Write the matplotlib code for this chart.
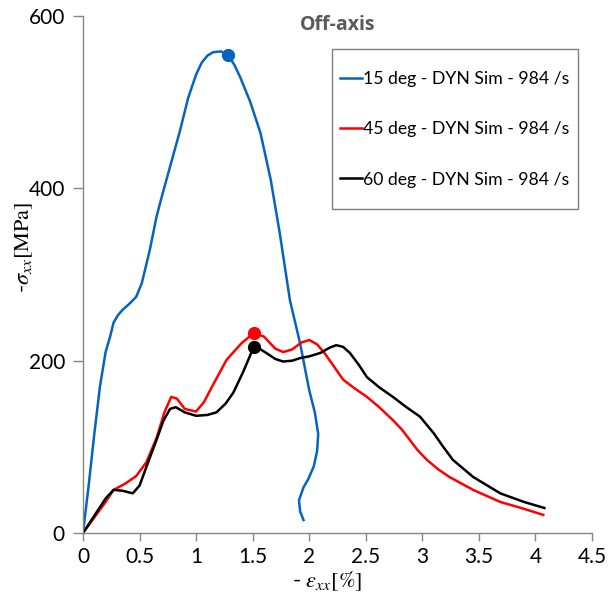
import matplotlib.pyplot as plt
from matplotlib.patches import Rectangle

plt.rcParams['font.family'] = ['Lato', 'DejaVu Sans']
plt.rcParams['mathtext.fontset'] = 'stix'

# strain [%] and stress [MPa] for each off-axis angle
strain_15 = [0, 0.05, 0.10, 0.15, 0.20, 0.24, 0.27, 0.31, 0.35, 0.41, 0.47, 0.52, 0.59, 0.65,
             0.70, 0.78, 0.86, 0.93, 1.00, 1.05, 1.10, 1.15, 1.22, 1.28, 1.34, 1.39, 1.48, 1.57,
             1.66, 1.74, 1.83, 1.92, 2.00, 2.05, 2.08, 2.07, 2.04, 1.99, 1.95, 1.91, 1.92, 1.95]
stress_15 = [0, 55, 115, 170, 210, 228, 244, 253, 259, 266, 274, 290, 328, 367,
             392, 430, 468, 505, 532, 546, 554, 558, 559, 555, 543, 529, 500, 464,
             410, 348, 270, 220, 166, 140, 115, 95, 77, 62, 53, 38, 25, 15]

strain_45 = [0, 0.10, 0.20, 0.27, 0.37, 0.47, 0.56, 0.65, 0.72, 0.78, 0.83, 0.90, 1.00, 1.07,
             1.15, 1.27, 1.40, 1.51, 1.60, 1.70, 1.77, 1.85, 1.93, 2.00, 2.07, 2.14, 2.21,
             2.30, 2.40, 2.51, 2.62, 2.74, 2.82, 2.89, 2.96, 3.04, 3.14, 3.24, 3.45, 3.69,
             3.90, 4.07]
stress_45 = [0, 18, 36, 50, 57, 66, 82, 110, 140, 158, 156, 144, 141, 152,
             172, 201, 220, 232, 228, 214, 210, 213, 221, 224, 219, 208, 195,
             178, 168, 158, 146, 131, 120, 108, 96, 85, 74, 65, 50, 36,
             28, 21]

strain_60 = [0, 0.10, 0.20, 0.27, 0.35, 0.44, 0.50, 0.57, 0.65, 0.71, 0.77, 0.82, 0.90, 1.00,
             1.10, 1.18, 1.26, 1.33, 1.42, 1.51, 1.56, 1.62, 1.70, 1.77, 1.85, 1.92, 2.00,
             2.10, 2.18, 2.24, 2.30, 2.36, 2.44, 2.51, 2.62, 2.74, 2.86, 2.98, 3.10, 3.18,
             3.27, 3.45, 3.69, 3.90, 4.08]
stress_60 = [0, 20, 40, 50, 49, 46, 55, 80, 108, 130, 144, 146, 140, 136,
             137, 140, 150, 163, 188, 216, 214, 209, 202, 199, 200, 203, 205,
             209, 215, 218, 216, 209, 195, 181, 169, 158, 146, 135, 116, 101,
             85, 65, 46, 36, 29]

# peak points
peak_15 = (1.28, 555)
peak_45 = (1.51, 232)
peak_60 = (1.51, 216)

labels = ['15 deg - DYN Sim - 984 /s', '45 deg - DYN Sim - 984 /s', '60 deg - DYN Sim - 984 /s']
colors = ['#0563C1', '#FF0000', '#000000']

fig = plt.figure(figsize=(6.08, 6.06), dpi=100)
ax = fig.add_axes([0.1365, 0.1205, 0.837, 0.853])

for xs, ys, pk, lab, c in zip([strain_15, strain_45, strain_60],
                              [stress_15, stress_45, stress_60],
                              [peak_15, peak_45, peak_60], labels, colors):
    ax.plot(xs, ys, color=c, lw=1.8, label=lab)
    ax.plot(pk[0], pk[1], 'o', color=c, ms=8.5)

ax.set_xlim(0, 4.5)
ax.set_ylim(0, 600)
ax.set_xticks([0, 0.5, 1, 1.5, 2, 2.5, 3, 3.5, 4, 4.5])
ax.set_xticklabels(['0', '0.5', '1', '1.5', '2', '2.5', '3', '3.5', '4', '4.5'])
ax.set_yticks([0, 200, 400, 600])

for s in ['top', 'right']:
    ax.spines[s].set_visible(False)
for s in ['left', 'bottom']:
    ax.spines[s].set_color('#868686')
    ax.spines[s].set_linewidth(1.0)
ax.tick_params(axis='both', direction='out', length=6, width=1.0, color='#868686',
               labelsize=15, pad=4)
ax.tick_params(axis='y', length=7, pad=6)

ax.set_xlabel(r'- $\epsilon_{xx}[\%]$', fontsize=16)
ax.set_ylabel(r'-$\sigma_{xx}[\mathrm{MPa}]$', fontsize=16)
ax.xaxis.set_label_coords(0.479, -0.07)
ax.yaxis.set_label_coords(-0.095, 0.553)

fig.text(0.555, 0.959, 'Off-axis', fontsize=14, fontweight='bold', color='#595959',
         ha='center', va='center', family=['Open Sans', 'DejaVu Sans'])

# legend frame drawn separately so its padding can be set freely
ax.add_patch(Rectangle((0.489, 0.627), 0.4835, 0.309, transform=ax.transAxes,
                       facecolor='white', edgecolor='#7f7f7f', lw=1.0, zorder=4))
leg = ax.legend(loc='center left', bbox_to_anchor=(0.505, 0.781), fontsize=12.7,
                frameon=False, handlelength=1.25, handletextpad=0.05,
                labelspacing=1.95, borderpad=0, borderaxespad=0)
leg.set_zorder(5)

fig.savefig('out.png', dpi=100)
